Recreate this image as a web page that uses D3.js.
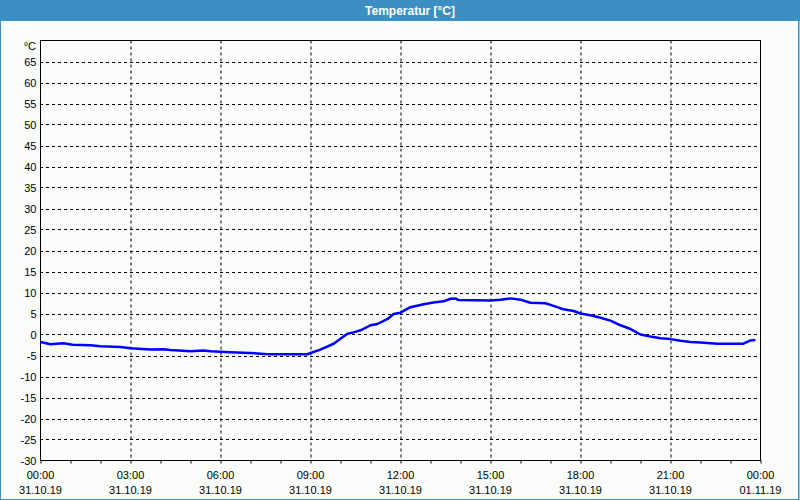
<!DOCTYPE html>
<html>
<head>
<meta charset="utf-8">
<script src="https://cdn.jsdelivr.net/npm/d3@7"></script>
<style>
  html, body { margin: 0; padding: 0; background: #fafcf9; }
  svg { display: block; }
</style>
</head>
<body>
<svg id="chart" width="800" height="500"></svg>
<script>
// ---- Data ----
const title = "Temperatur [°C]";
const unitLabel = "°C";
// time offsets in hours from 31.10.19 00:00
const timeHours = [0.0, 0.33, 0.53, 0.77, 1.07, 1.67, 2.0, 2.67, 3.0, 3.67, 4.1, 4.33, 5.0, 5.43, 5.67,
  6.33, 7.23, 7.57, 8.9, 9.0, 9.33, 9.77, 10.23, 10.43, 10.67, 11.0, 11.23, 11.57, 11.77, 12.0,
  12.33, 12.77, 13.1, 13.43, 13.67, 13.83, 13.93, 15.0, 15.33, 15.67, 16.0, 16.33, 16.83, 17.1,
  17.43, 17.77, 18.0, 18.33, 18.67, 19.0, 19.33, 19.67, 20.0, 20.33, 20.67, 21.0, 21.33, 21.67,
  22.0, 22.57, 23.43, 23.67, 23.83];
const temperature = [-1.8, -2.3, -2.2, -2.1, -2.45, -2.55, -2.8, -3.0, -3.3, -3.6, -3.5, -3.7, -4.0, -3.8, -4.0,
  -4.2, -4.5, -4.7, -4.7, -4.4, -3.6, -2.2, 0.2, 0.5, 1.0, 2.2, 2.5, 3.7, 4.9, 5.2,
  6.5, 7.2, 7.6, 7.9, 8.5, 8.6, 8.2, 8.1, 8.3, 8.6, 8.3, 7.55, 7.45, 6.8,
  6.0, 5.6, 5.0, 4.6, 4.0, 3.3, 2.2, 1.3, 0.0, -0.5, -0.9, -1.1, -1.5, -1.8,
  -1.9, -2.2, -2.2, -1.4, -1.3];
const yTicks = [-30, -25, -20, -15, -10, -5, 0, 5, 10, 15, 20, 25, 30, 35, 40, 45, 50, 55, 60, 65];
const xTickTimes = ["00:00", "03:00", "06:00", "09:00", "12:00", "15:00", "18:00", "21:00", "00:00"];
const xTickDates = ["31.10.19", "31.10.19", "31.10.19", "31.10.19", "31.10.19", "31.10.19", "31.10.19", "31.10.19", "01.11.19"];
const yDomain = [-30, 70];

// ---- Layout ----
const W = 800, H = 500;
const plot = { left: 40, right: 760, top: 40.5, bottom: 460.5 };
const startDate = new Date(2019, 9, 31, 0, 0);
const endDate = new Date(2019, 10, 1, 0, 0);

const svg = d3.select("#chart");

// background
svg.append("rect").attr("x", 0).attr("y", 0).attr("width", W).attr("height", H).attr("fill", "#fafcf9");

// title bar
svg.append("rect").attr("x", 0).attr("y", 0).attr("width", W).attr("height", 21).attr("fill", "#3b8fc3");
svg.append("text").attr("x", 410).attr("y", 15)
  .attr("text-anchor", "middle").attr("fill", "#ffffff")
  .attr("font-family", "Liberation Sans, Arial, sans-serif").attr("font-size", 12).attr("font-weight", "bold")
  .text(title);

// window border
svg.append("rect").attr("x", 0.5).attr("y", 0.5).attr("width", W - 1.5).attr("height", H - 1)
  .attr("fill", "none").attr("stroke", "#3b8fc3").attr("stroke-width", 1);
svg.append("line").attr("x1", 798.5).attr("x2", 798.5).attr("y1", 0).attr("y2", H)
  .attr("stroke", "#3b8fc3").attr("stroke-width", 1);

// scales
const x = d3.scaleTime().domain([startDate, endDate]).range([plot.left + 0.5, plot.right + 0.5]);
const y = d3.scaleLinear().domain(yDomain).range([plot.bottom, plot.top]);

const font = "Liberation Sans, Arial, sans-serif";

// horizontal gridlines
const hGrid = svg.append("g");
yTicks.filter(v => v > yDomain[0]).forEach(v => {
  hGrid.append("line")
    .attr("x1", plot.left).attr("x2", plot.right)
    .attr("y1", Math.round(y(v)) + 0.5).attr("y2", Math.round(y(v)) + 0.5)
    .attr("stroke", "#000").attr("stroke-width", 1).attr("stroke-dasharray", "3,3");
});

// vertical gridlines every 3h
const majorTicks = d3.range(0, 25, 3).map(h => d3.timeHour.offset(startDate, h));
majorTicks.slice(1, -1).forEach(d => {
  svg.append("line")
    .attr("x1", Math.round(x(d)) - 0.5 + 0.5).attr("x2", Math.round(x(d)) - 0.5 + 0.5)
    .attr("y1", plot.top).attr("y2", plot.bottom)
    .attr("stroke", "#000").attr("stroke-width", 1).attr("stroke-dasharray", "3,3");
});

// plot frame
svg.append("rect").attr("x", plot.left + 0.5).attr("y", plot.top)
  .attr("width", plot.right - plot.left).attr("height", plot.bottom - plot.top)
  .attr("fill", "none").attr("stroke", "#000").attr("stroke-width", 1);

// y axis labels
const yAxis = d3.axisLeft(y).tickValues(yTicks).tickSize(4).tickFormat(d => d);
const gy = svg.append("g").attr("transform", `translate(${plot.left + 0.5},0)`).call(yAxis);
gy.select(".domain").remove();
gy.selectAll(".tick line").attr("stroke", "#000").attr("x2", 0).attr("x1", 0);
gy.selectAll(".tick text").attr("font-family", font).attr("font-size", 11).attr("fill", "#000")
  .attr("x", -4).attr("dy", "0.35em");

svg.append("text").attr("x", 36).attr("y", 50).attr("text-anchor", "end")
  .attr("font-family", font).attr("font-size", 11).attr("fill", "#000").text(unitLabel);

// x axis: minor ticks every hour
const xAxis = d3.axisBottom(x).ticks(d3.timeHour.every(1)).tickSize(3).tickFormat("");
const gx = svg.append("g").attr("transform", `translate(0,${plot.bottom})`).call(xAxis);
gx.select(".domain").remove();
gx.selectAll(".tick line").attr("stroke", "#000");

// x labels (two lines)
const xl = svg.append("g");
majorTicks.forEach((d, i) => {
  xl.append("text").attr("x", x(d)).attr("y", 479).attr("text-anchor", "middle")
    .attr("font-family", font).attr("font-size", 11).attr("fill", "#000").text(xTickTimes[i]);
  xl.append("text").attr("x", x(d)).attr("y", 494).attr("text-anchor", "middle")
    .attr("font-family", font).attr("font-size", 11).attr("fill", "#000").text(xTickDates[i]);
});

// data line
const data = timeHours.map((h, i) => ({ t: new Date(startDate.getTime() + h * 3600000), v: temperature[i] }));
const line = d3.line().x(d => x(d.t)).y(d => y(d.v)).curve(d3.curveLinear);
svg.append("path").datum(data).attr("d", line)
  .attr("fill", "none").attr("stroke", "#0000ff").attr("stroke-width", 2.5)
  .attr("stroke-linejoin", "round");
</script>
</body>
</html>
